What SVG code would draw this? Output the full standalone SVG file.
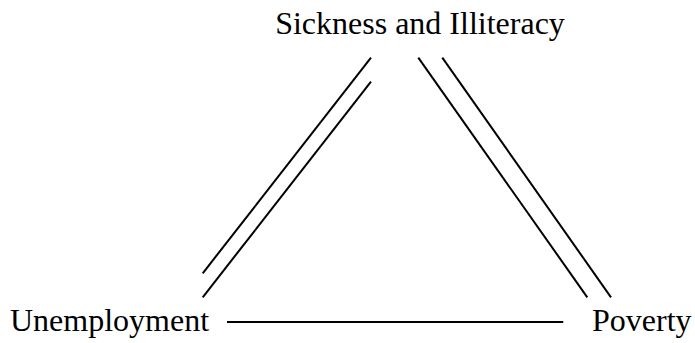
<svg xmlns="http://www.w3.org/2000/svg" width="695" height="343" viewBox="0 0 695 343">
<style>
text{font-family:"Liberation Serif","Times New Roman",serif;font-size:32px;fill:#000}
.c line{stroke:#000;stroke-width:2;fill:none}
</style>
<rect width="695" height="343" fill="#fff"/>
<g id="sickness"><text x="420" y="34" text-anchor="middle">Sickness and Illiteracy</text></g>
<g id="unemployment"><text x="10" y="331">Unemployment</text></g>
<g id="poverty"><text x="592" y="331">Poverty</text></g>
<g class="c" id="connectors">
<line x1="202.7" y1="273.3" x2="371" y2="57.7"/>
<line x1="202.7" y1="297.3" x2="371" y2="81.7"/>
<line x1="418.3" y1="57.7" x2="587.3" y2="297.3"/>
<line x1="442.3" y1="57.7" x2="611" y2="297.3"/>
<line x1="227" y1="322" x2="563.3" y2="322"/>
</g>
</svg>
